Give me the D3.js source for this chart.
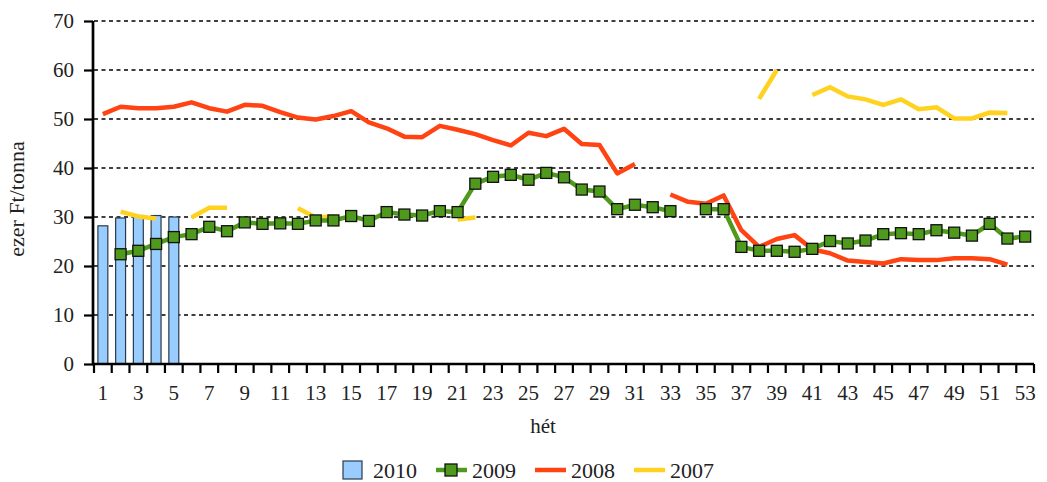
<!DOCTYPE html>
<html><head><meta charset="utf-8">
<script src="https://cdn.jsdelivr.net/npm/d3@7"></script>
<style>
body{margin:0;background:#fff;}
svg text{font-family:"Liberation Serif","DejaVu Serif",serif;fill:#222;}
</style></head><body>
<svg id="c" width="1047" height="482"></svg>
<script>
const weeks = d3.range(1, 54);
const xTickLabels = d3.range(1, 54, 2);
const yTicks = [0,10,20,30,40,50,60,70];
const seriesNames = ["2010","2009","2008","2007"];

const s2010 = [28.2,29.8,30.3,30.3,30.0];

const s2009 = [null,22.4,23.1,24.5,25.9,26.5,28.0,27.1,28.9,28.6,
  28.7,28.6,29.3,29.3,30.2,29.2,31.0,30.5,30.3,31.2,
  31.0,36.8,38.2,38.6,37.6,39.0,38.1,35.6,35.2,31.6,
  32.5,32.0,31.2,null,31.6,31.6,23.9,23.1,23.1,22.9,
  23.5,25.1,24.6,25.2,26.5,26.7,26.5,27.3,26.8,26.2,
  28.6,25.6,26.0];

const s2008 = [51.0,52.5,52.2,52.2,52.5,53.4,52.2,51.5,52.9,52.7,
  51.4,50.3,49.9,50.6,51.6,49.3,48.1,46.4,46.3,48.6,
  47.8,46.9,45.7,44.6,47.2,46.5,48.0,44.9,44.7,38.9,
  40.8,null,34.6,33.1,32.7,34.4,27.3,23.9,25.5,26.3,
  23.4,22.6,21.1,20.8,20.5,21.4,21.2,21.2,21.6,21.6,
  21.4,20.3,null];

const s2007 = [null,31.1,30.1,29.7,null,29.9,31.9,31.9,null,null,
  null,31.8,29.9,30.1,null,null,null,null,null,null,
  29.5,29.9,null,null,null,null,null,null,null,null,
  null,null,null,null,null,null,null,54.1,60.0,null,
  54.9,56.5,54.6,54.0,52.9,54.0,52.0,52.4,50.1,50.1,
  51.3,51.2,null];

const colors = {c2010:"#99ccff", c2009:"#4f9a1c", c2008:"#ff4313", c2007:"#ffd21f"};
const FS = 21;

const svg = d3.select("#c");
const mLeft = 94, mRight = 1034, mTop = 21, mBottom = 364;
const x = d3.scaleBand().domain(weeks).range([mLeft, mRight]).padding(0);
const y = d3.scaleLinear().domain([0,70]).range([mBottom, mTop]);
const cx = w => x(w) + x.bandwidth()/2;

// gridlines
svg.append("g").selectAll("line").data(yTicks.filter(t=>t>0)).join("line")
  .attr("x1", mLeft).attr("x2", mRight)
  .attr("y1", d=>y(d)).attr("y2", d=>y(d))
  .attr("stroke","#000").attr("stroke-width",1.5).attr("stroke-dasharray","4,3.5");

// bars 2010
const bw = x.bandwidth()*0.56;
svg.append("g").selectAll("rect").data(s2010).join("rect")
  .attr("x",(d,i)=>cx(weeks[i]) - bw/2)
  .attr("y",d=>y(d))
  .attr("width",bw)
  .attr("height",d=>y(0)-y(d))
  .attr("fill",colors.c2010).attr("stroke","#2a3a4a").attr("stroke-width",1.2);

const line = d3.line().defined(d=>d.v!=null).x(d=>cx(d.w)).y(d=>y(d.v));
const toPts = arr => arr.map((v,i)=>({w:weeks[i], v:v}));

svg.append("path").datum(toPts(s2007)).attr("d",line)
  .attr("fill","none").attr("stroke",colors.c2007).attr("stroke-width",4.5);
svg.append("path").datum(toPts(s2008)).attr("d",line)
  .attr("fill","none").attr("stroke",colors.c2008).attr("stroke-width",4.5).attr("stroke-linejoin","round");
svg.append("path").datum(toPts(s2009)).attr("d",line)
  .attr("fill","none").attr("stroke",colors.c2009).attr("stroke-width",4.5);
svg.append("g").selectAll("rect").data(toPts(s2009).filter(d=>d.v!=null)).join("rect")
  .attr("x",d=>cx(d.w)-5.5).attr("y",d=>y(d.v)-5.5)
  .attr("width",11).attr("height",11)
  .attr("fill",colors.c2009).attr("stroke","#111").attr("stroke-width",1.3);

// axes
const yAxis = svg.append("g").attr("transform",`translate(${mLeft-1},0)`)
  .call(d3.axisLeft(y).tickValues(yTicks).tickSize(9).tickPadding(10));
yAxis.attr("font-family",null).attr("font-size",null);
yAxis.select(".domain").attr("stroke","#000").attr("stroke-width",2.7).attr("d",`M0,${mTop}V${mBottom}`);
yAxis.selectAll(".tick line").attr("stroke","#000").attr("stroke-width",2.2);
yAxis.selectAll("text").attr("font-size",FS).attr("fill","#222");

const xg = svg.append("g");
xg.append("line").attr("x1",mLeft-2).attr("x2",mRight).attr("y1",mBottom).attr("y2",mBottom)
  .attr("stroke","#000").attr("stroke-width",2.7);
xg.selectAll("line.tk").data(weeks.concat([54])).join("line").attr("class","tk")
  .attr("x1",d=> d===54 ? mRight : x(d)).attr("x2",d=> d===54 ? mRight : x(d))
  .attr("y1",mBottom).attr("y2",mBottom+9).attr("stroke","#000").attr("stroke-width",2.2);
xg.selectAll("text").data(xTickLabels).join("text")
  .attr("x",d=>cx(d)).attr("y",400).attr("text-anchor","middle")
  .attr("font-size",FS).text(d=>d);

svg.append("text").attr("x",543).attr("y",433).attr("text-anchor","middle").attr("font-size",FS).text("hét");
svg.append("text").attr("transform","translate(24,199) rotate(-90)").attr("text-anchor","middle")
  .attr("font-size",FS+1).text("ezer Ft/tonna");

// legend
const lg = svg.append("g");
lg.append("rect").attr("x",343).attr("y",461).attr("width",19).attr("height",18)
  .attr("fill",colors.c2010).attr("stroke","#2a3a4a").attr("stroke-width",1.2);
lg.append("text").attr("x",373).attr("y",478).attr("font-size",FS+1).text(seriesNames[0]);
lg.append("line").attr("x1",436).attr("x2",467).attr("y1",470).attr("y2",470).attr("stroke",colors.c2009).attr("stroke-width",4.5);
lg.append("rect").attr("x",445).attr("y",464).attr("width",12).attr("height",12).attr("fill",colors.c2009).attr("stroke","#111").attr("stroke-width",1.3);
lg.append("text").attr("x",472).attr("y",478).attr("font-size",FS+1).text(seriesNames[1]);
lg.append("line").attr("x1",535).attr("x2",566).attr("y1",470).attr("y2",470).attr("stroke",colors.c2008).attr("stroke-width",4.5);
lg.append("text").attr("x",571).attr("y",478).attr("font-size",FS+1).text(seriesNames[2]);
lg.append("line").attr("x1",634).attr("x2",665).attr("y1",470).attr("y2",470).attr("stroke",colors.c2007).attr("stroke-width",4.5);
lg.append("text").attr("x",670).attr("y",478).attr("font-size",FS+1).text(seriesNames[3]);
</script></body></html>
